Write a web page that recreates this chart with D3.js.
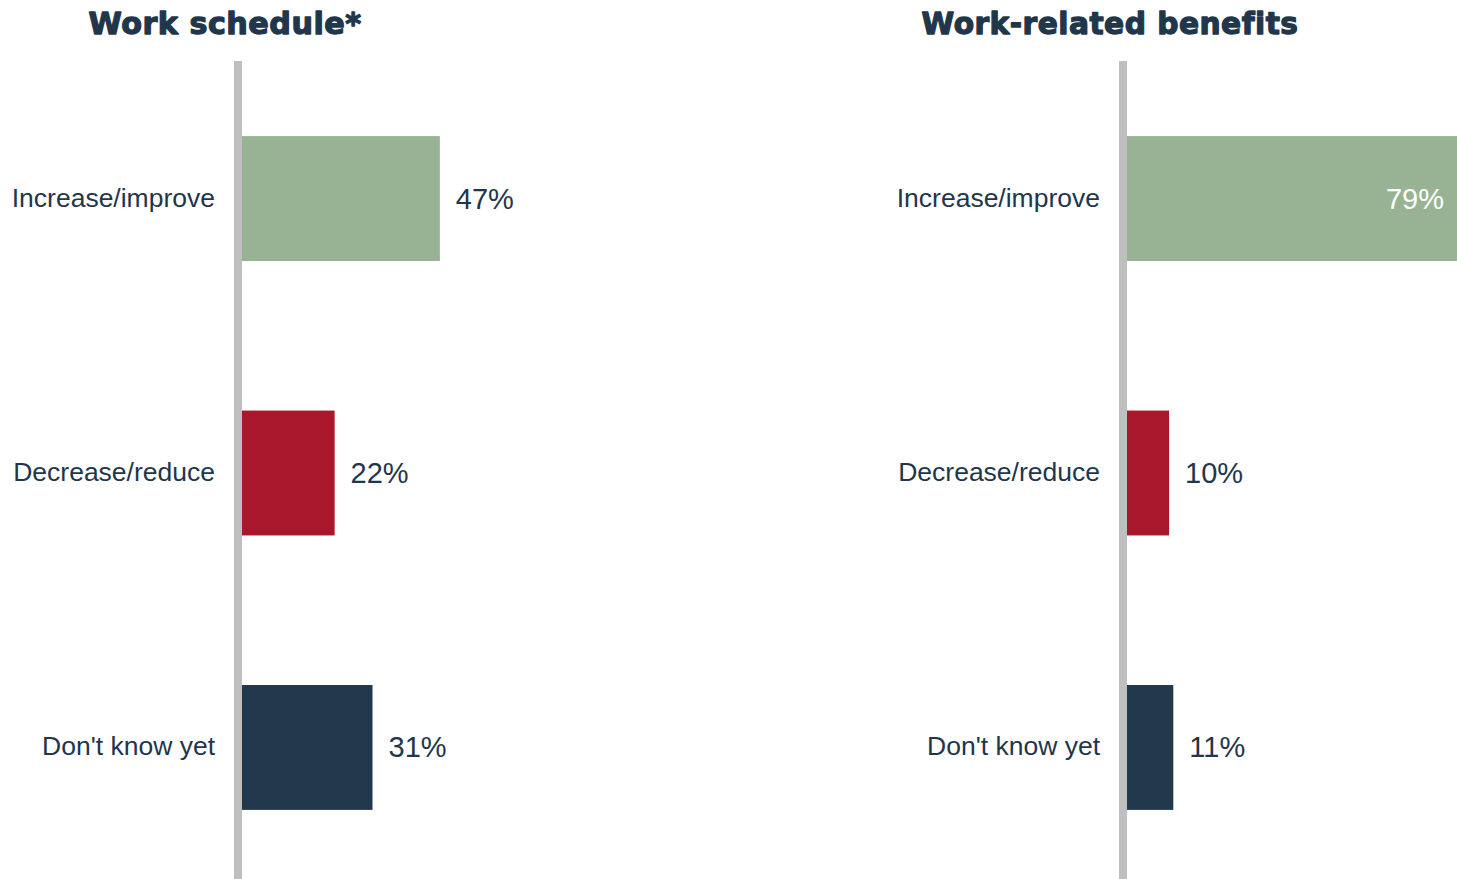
<!DOCTYPE html>
<html>
<head>
<meta charset="utf-8">
<script src="https://cdn.jsdelivr.net/npm/d3@7"></script>
<style>
  html, body { margin: 0; padding: 0; background: #fff; }
  svg { display: block; }
  text { font-variant-ligatures: none; font-feature-settings: "liga" 0, "clig" 0; }
</style>
</head>
<body>
<svg id="chart" width="1457" height="879"></svg>
<script>
// Survey responses: expected change by area
const categories = ["Increase/improve", "Decrease/reduce", "Don't know yet"];
const panelTitles = ["Work schedule*", "Work-related benefits"];
const scheduleValues = [47, 22, 31];
const benefitsValues = [79, 10, 11];
const barColors = ["#97b394", "#a8172b", "#22384c"];

const width = 1457, height = 879;
const svg = d3.select("#chart");

const panels = [
  { title: panelTitles[0], values: scheduleValues, axisX: 242, titleWidth: 273 },
  { title: panelTitles[1], values: benefitsValues, axisX: 1127, titleWidth: 377 }
];

// shared scales
const x = d3.scaleLinear().domain([0, 100]).range([0, 421]);
const y = d3.scaleBand().domain(categories).range([62, 884]).paddingInner(0.545).paddingOuter(0.27);

const textColor = "#1f364b";

panels.forEach(p => {
  const g = svg.append("g").attr("transform", `translate(${p.axisX},0)`);

  // title (stroked to give a heavier, black-weight look)
  g.append("text")
    .attr("x", -17)
    .attr("y", 34)
    .attr("text-anchor", "middle")
    .attr("font-family", "'DejaVu Sans', Arial, sans-serif")
    .attr("font-weight", 900)
    .attr("font-size", 31)
    .attr("letter-spacing", 0.5)
    .attr("textLength", p.titleWidth)
    .attr("lengthAdjust", "spacingAndGlyphs")
    .attr("fill", "#1f364b")
    .attr("stroke", "#1f364b")
    .attr("stroke-width", 1.3)
    .attr("stroke-linejoin", "round")
    .text(p.title);

  const rows = categories.map((c, i) => ({ cat: c, value: p.values[i], color: barColors[i] }));

  // bars
  g.selectAll("rect.bar").data(rows).enter().append("rect")
    .attr("class", "bar")
    .attr("x", 0)
    .attr("y", d => y(d.cat))
    .attr("width", d => x(d.value))
    .attr("height", y.bandwidth())
    .attr("fill", d => d.color);

  // category labels
  g.selectAll("text.cat").data(rows).enter().append("text")
    .attr("class", "cat")
    .attr("x", -27)
    .attr("y", d => y(d.cat) + y.bandwidth() / 2 + 8)
    .attr("text-anchor", "end")
    .attr("font-family", "'Liberation Sans', Arial, sans-serif")
    .attr("font-size", 26.5)
    .attr("fill", textColor)
    .text(d => d.cat);

  // value labels: inside the bar when it runs off the canvas
  g.selectAll("text.val").data(rows).enter().append("text")
    .attr("class", "val")
    .each(function (d) {
      const end = p.axisX + x(d.value);
      const inside = end > width - 20;
      d3.select(this)
        .attr("x", inside ? width - p.axisX - 13 : x(d.value) + 16)
        .attr("text-anchor", inside ? "end" : "start")
        .attr("fill", inside ? "#ffffff" : textColor);
    })
    .attr("y", d => y(d.cat) + y.bandwidth() / 2 + 10)
    .attr("font-family", "'Liberation Sans', Arial, sans-serif")
    .attr("font-size", 29)
    .text(d => d.value + "%");

  // vertical baseline
  g.append("line")
    .attr("x1", x(0) - 4).attr("x2", x(0) - 4)
    .attr("y1", 61).attr("y2", height)
    .attr("stroke", "#c0bfbf")
    .attr("stroke-width", 8);
});
</script>
</body>
</html>
